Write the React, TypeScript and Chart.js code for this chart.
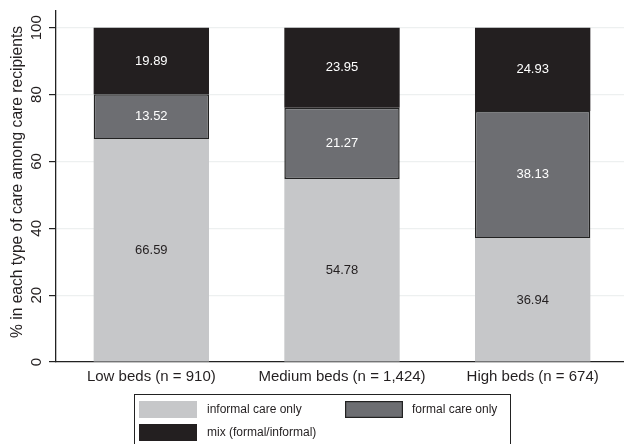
import React, { useEffect, useRef } from "react";
import { Chart, registerables } from "chart.js";

Chart.register(...registerables);

const categories = ["Low beds (n = 910)", "Medium beds (n = 1,424)", "High beds (n = 674)"];
const informalOnly = [66.59, 54.78, 36.94];
const formalOnly = [13.52, 21.27, 38.13];
const mixCare = [19.89, 23.95, 24.93];
const yTickValues = [0, 20, 40, 60, 80, 100];
const yTitle = "% in each type of care among care recipients";
const legendLabels = ["informal care only", "formal care only", "mix (formal/informal)"];

const FONT = '"Liberation Sans", Arial, Helvetica, sans-serif';
const C_LIGHT = "#c6c7c9";
const C_MID = "#6d6e72";
const C_DARK = "#231f20";
const C_TEXT = "#231f20";

const overlayPlugin = {
  id: "overlay",
  afterDatasetsDraw(chart: any) {
    const ctx = chart.ctx;
    ctx.save();
    ctx.font = `13px ${FONT}`;
    ctx.textAlign = "center";
    ctx.textBaseline = "middle";
    chart.data.datasets.forEach((ds: any, di: number) => {
      const meta = chart.getDatasetMeta(di);
      meta.data.forEach((el: any, i: number) => {
        const v = ds.data[i];
        ctx.fillStyle = di === 0 ? C_TEXT : "#ffffff";
        ctx.fillText(v.toFixed(2), el.x, (el.y + el.base) / 2);
      });
    });
    ctx.restore();
  },
  afterDraw(chart: any) {
    const ctx = chart.ctx;
    const y = chart.scales.y;
    ctx.save();
    // y tick labels, rotated
    ctx.fillStyle = C_TEXT;
    ctx.font = `15px ${FONT}`;
    ctx.textAlign = "center";
    ctx.textBaseline = "middle";
    yTickValues.forEach((v) => {
      const py = y.getPixelForValue(v);
      ctx.save();
      ctx.translate(37, py);
      ctx.rotate(-Math.PI / 2);
      ctx.fillText(String(v), 0, 0);
      ctx.restore();
    });
    // y title
    ctx.save();
    ctx.font = `15.6px ${FONT}`;
    ctx.translate(18, 182);
    ctx.rotate(-Math.PI / 2);
    ctx.fillText(yTitle, 0, 0);
    ctx.restore();

    // legend
    ctx.strokeStyle = "#222";
    ctx.lineWidth = 1;
    ctx.strokeRect(134.5, 394.5, 376, 60);
    const items = [
      { x: 139, y: 401, fill: C_LIGHT, border: false, label: legendLabels[0], tx: 207 },
      { x: 345, y: 401, fill: C_MID, border: true, label: legendLabels[1], tx: 412 },
      { x: 139, y: 424, fill: C_DARK, border: false, label: legendLabels[2], tx: 207 },
    ];
    ctx.font = `12px ${FONT}`;
    ctx.textAlign = "left";
    ctx.textBaseline = "middle";
    items.forEach((it) => {
      ctx.fillStyle = it.fill;
      ctx.fillRect(it.x, it.y, 58, 17);
      if (it.border) {
        ctx.strokeStyle = "#222";
        ctx.lineWidth = 1.2;
        ctx.strokeRect(it.x + 0.6, it.y + 0.6, 56.8, 15.8);
      }
      ctx.fillStyle = C_TEXT;
      ctx.fillText(it.label, it.tx, it.y + 9);
    });
    ctx.restore();
  },
};

export default function App() {
  const ref = useRef<HTMLCanvasElement | null>(null);
  useEffect(() => {
    if (!ref.current) return;
    const chart = new Chart(ref.current, {
      type: "bar",
      data: {
        labels: categories,
        datasets: [
          { label: legendLabels[0], data: informalOnly, backgroundColor: C_LIGHT, borderWidth: 0 },
          {
            label: legendLabels[1],
            data: formalOnly,
            backgroundColor: C_MID,
            borderColor: "#222",
            borderWidth: 1.5,
            borderSkipped: false,
          },
          { label: legendLabels[2], data: mixCare, backgroundColor: C_DARK, borderWidth: 0 },
        ],
      },
      options: {
        responsive: false,
        animation: false,
        devicePixelRatio: 1,
        layout: { padding: { left: 0, right: 0, top: 11, bottom: 0 } },
        datasets: { bar: { categoryPercentage: 1, barPercentage: 0.605 } },
        plugins: { legend: { display: false }, tooltip: { enabled: false } },
        scales: {
          x: {
            stacked: true,
            grid: { display: false, drawTicks: false },
            border: { display: true, color: "#222", width: 1.3 },
            ticks: { font: { size: 15, family: FONT }, color: C_TEXT, padding: 6 },
            afterFit: (s: any) => {
              s.height = 82;
            },
          },
          y: {
            stacked: true,
            min: 0,
            max: 105,
            afterBuildTicks: (s: any) => {
              s.ticks = yTickValues.map((v) => ({ value: v }));
            },
            ticks: { display: false },
            grid: { color: "#edf0f0", tickColor: "#222", tickLength: 7, lineWidth: 1.2 },
            border: { display: true, color: "#222", width: 1.3 },
            afterFit: (s: any) => {
              s.width = 56;
            },
          },
        },
      },
      plugins: [overlayPlugin],
    });
    return () => chart.destroy();
  }, []);
  return (
    <div
      style={{
        position: "absolute",
        left: 0,
        top: 0,
        width: 624,
        height: 444,
        overflow: "hidden",
        background: "#fff",
      }}
    >
      <canvas ref={ref} width={628} height={444} style={{ display: "block" }} />
    </div>
  );
}
